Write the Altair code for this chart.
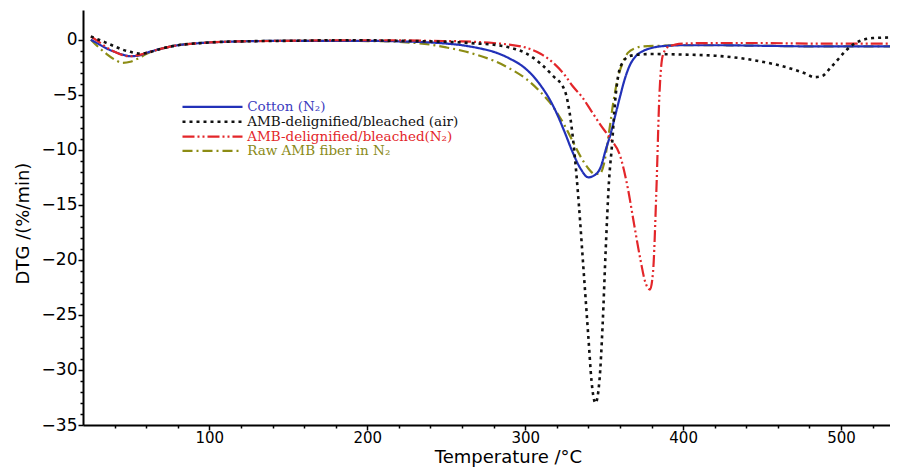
import altair as alt
import pandas as pd

# ---------------- data ----------------
cotton_T = [25, 30, 35, 40, 45, 50, 55, 60, 70, 80, 90, 100, 120, 150, 180, 200, 220, 240, 250, 260,
            270, 280, 290, 300, 305, 310, 315, 320, 325, 330, 335, 340, 344, 348, 351, 354, 357, 360,
            363, 366, 370, 375, 380, 390, 400, 420, 450, 480, 510, 531]
cotton_v = [0.0, -0.4, -0.8, -1.1, -1.35, -1.5, -1.45, -1.2, -0.8, -0.5, -0.35, -0.25, -0.15, -0.1,
            -0.1, -0.1, -0.15, -0.25, -0.35, -0.5, -0.75, -1.1, -1.7, -2.6, -3.3, -4.2, -5.3, -6.7,
            -8.4, -10.2, -11.7, -12.5, -12.3, -11.5, -10.0, -8.6, -6.9, -5.2, -3.6, -2.4, -1.5, -1.0,
            -0.75, -0.55, -0.5, -0.5, -0.55, -0.6, -0.6, -0.6]

air_T = [25, 30, 35, 40, 45, 50, 55, 60, 70, 80, 90, 100, 120, 150, 180, 200, 220, 240, 260, 270,
         280, 290, 300, 310, 317, 325, 328, 331, 334, 337, 340, 342, 344.5, 347, 349, 351, 353, 355,
         357, 359, 362, 366, 372, 380, 400, 420, 440, 450, 460, 470, 478, 483, 488, 493, 498, 503,
         508, 513, 520, 531]
air_v = [0.3, 0.0, -0.3, -0.6, -0.9, -1.1, -1.25, -1.2, -0.8, -0.5, -0.35, -0.25, -0.15, -0.1,
         -0.05, -0.05, -0.1, -0.15, -0.25, -0.35, -0.45, -0.7, -1.2, -2.2, -3.2, -4.6, -6.5, -10.0,
         -15.0, -21.0, -27.0, -31.0, -33.0, -31.0, -26.0, -19.0, -13.0, -9.5, -5.5, -3.2, -2.0,
         -1.5, -1.35, -1.3, -1.35, -1.45, -1.75, -2.0, -2.3, -2.7, -3.1, -3.4, -3.3, -2.6, -1.8,
         -1.0, -0.4, -0.05, 0.15, 0.2]

n2_T = [25, 30, 35, 40, 45, 50, 55, 60, 70, 80, 90, 100, 120, 150, 180, 200, 220, 240, 260, 280,
        290, 300, 310, 317, 325, 330, 336, 342, 348, 354, 360, 365, 369, 373, 376, 379, 381, 383,
        385, 387, 390, 395, 400, 420, 450, 480, 510, 531]
n2_v = [0.3, -0.2, -0.7, -1.1, -1.4, -1.5, -1.4, -1.2, -0.8, -0.5, -0.35, -0.25, -0.15, -0.1,
        -0.05, -0.05, -0.05, -0.1, -0.15, -0.3, -0.45, -0.7, -1.3, -2.0, -3.2, -4.2, -5.2, -6.5,
        -7.8, -9.0, -10.5, -13.5, -16.8, -20.0, -22.0, -22.7, -21.0, -14.0, -5.0, -1.5, -0.7,
        -0.45, -0.35, -0.3, -0.3, -0.35, -0.35, -0.35]

raw_T = [25, 30, 35, 40, 45, 50, 55, 60, 70, 80, 90, 100, 120, 150, 180, 200, 220, 240, 250, 260,
         270, 280, 290, 300, 310, 315, 320, 325, 330, 335, 340, 344, 347, 350, 353, 356, 359, 362,
         365, 370, 375, 385, 400, 420, 450, 480, 510, 531]
raw_v = [0.0, -0.7, -1.3, -1.8, -2.1, -2.0, -1.7, -1.3, -0.8, -0.5, -0.35, -0.25, -0.15, -0.1,
         -0.1, -0.12, -0.2, -0.45, -0.7, -1.0, -1.4, -1.9, -2.6, -3.5, -4.8, -5.6, -6.6, -7.8,
         -9.2, -10.6, -11.7, -12.2, -12.2, -11.2, -8.5, -5.5, -3.3, -2.0, -1.2, -0.75, -0.6,
         -0.55, -0.5, -0.5, -0.55, -0.6, -0.6, -0.6]

labels = ["Cotton (N₂)", "AMB-delignified/bleached (air)",
          "AMB-delignified/bleached(N₂)", "Raw AMB fiber in N₂"]

x_major = [100, 200, 300, 400, 500]
x_minor = [v for v in range(40, 531, 20) if v % 100 != 0]
y_major = [0, -5, -10, -15, -20, -25, -30, -35]
y_minor = [v for v in range(-35, 1) if v % 5 != 0]

# ---------------- styles ----------------
line_colors = ["#2231b8", "#111111", "#e3262a", "#8c8c14"]
text_colors = ["#3c3cc0", "#111111", "#e3262a", "#8a8a18"]
dashes = [[1, 0], [3, 4], [12, 3, 2, 3, 2, 3], [10, 4, 2, 4]]
widths = [2.2, 2.6, 2.2, 2.2]

# legend layout (in data units)
leg_x1, leg_x2, leg_xt = 83, 121, 124
leg_y = [-6.1, -7.45, -8.8, -10.1]

x_scale = alt.Scale(domain=[20, 531], nice=False, zero=False)
y_scale = alt.Scale(domain=[-35, 2.7], nice=False, zero=False)

x_axis = alt.Axis(
    orient="bottom", values=x_major, tickSize=5, labelPadding=0, labelFlush=False,
    labelFontSize=15,
    title="Temperature /°C", titleX=425, titleY=37, titleBaseline="alphabetic",
    titleFontSize=18, titleFontWeight="normal",
)
y_axis = alt.Axis(
    orient="left", values=y_major, tickSize=5, labelPadding=1, labelFlush=False,
    labelFontSize=17,
    title="DTG /(%/min)", titleX=-60, titleY=213, titleAngle=270,
    titleBaseline="middle", titleAlign="center",
    titleFontSize=18, titleFontWeight="normal",
)
x_axis_minor = alt.Axis(orient="bottom", values=x_minor, tickSize=3, labels=False,
                        domain=False, title=None)
y_axis_minor = alt.Axis(orient="left", values=y_minor, tickSize=3, labels=False,
                        domain=False, title=None)

series_T = [cotton_T, air_T, n2_T, raw_T]
series_v = [cotton_v, air_v, n2_v, raw_v]
order = [3, 0, 2, 1]

layers = []
for k, i in enumerate(order):
    df = pd.DataFrame({"T": series_T[i], "v": series_v[i]})
    if k == 0:
        ax_x, ax_y = x_axis, y_axis
    elif k == 1:
        ax_x, ax_y = x_axis_minor, y_axis_minor
    else:
        ax_x, ax_y = None, None
    layers.append(
        alt.Chart(df).mark_line(color=line_colors[i], strokeDash=dashes[i],
                                strokeWidth=widths[i], interpolate="monotone")
        .encode(x=alt.X("T:Q", scale=x_scale, axis=ax_x),
                y=alt.Y("v:Q", scale=y_scale, axis=ax_y))
    )

leg_df = pd.DataFrame({"label": labels, "x1": [leg_x1] * 4, "x2": [leg_x2] * 4,
                       "xt": [leg_xt] * 4, "y": leg_y})
for i in range(4):
    sub = leg_df.iloc[[i]]
    layers.append(
        alt.Chart(sub).mark_rule(color=line_colors[i], strokeDash=dashes[i], strokeWidth=widths[i])
        .encode(x=alt.X("x1:Q", scale=x_scale, axis=None), x2="x2:Q",
                y=alt.Y("y:Q", scale=y_scale, axis=None))
    )
    layers.append(
        alt.Chart(sub).mark_text(align="left", baseline="middle", color=text_colors[i],
                                 font="DejaVu Serif", fontSize=13.5)
        .encode(x=alt.X("xt:Q", scale=x_scale, axis=None),
                y=alt.Y("y:Q", scale=y_scale, axis=None), text="label:N")
    )

chart = alt.layer(*layers).resolve_axis(x="independent", y="independent").properties(
    width=807, height=415,
    autosize=alt.AutoSizeParams(type="none"),
    padding={"left": 75, "top": 2, "right": 0, "bottom": 44},
).configure_view(stroke=None).configure_axis(
    grid=False, domainColor="black", domainWidth=2, tickColor="black", tickWidth=1.5,
    labelColor="black", labelFont="DejaVu Sans",
    titleColor="black", titleFont="DejaVu Sans",
)

chart.save("out.html", embed_options={"renderer": "svg", "actions": False})
